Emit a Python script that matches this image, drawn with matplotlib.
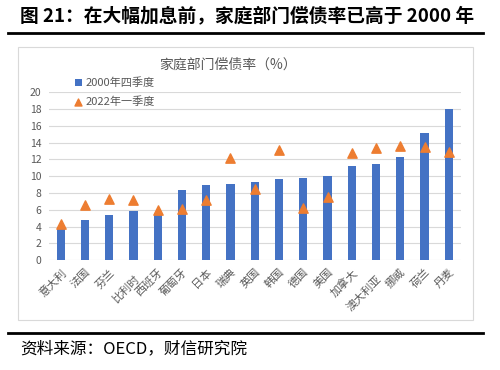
import matplotlib.pyplot as plt
import matplotlib.patches as mpatches
import matplotlib.transforms as mtrans
from matplotlib.lines import Line2D
import numpy as np

plt.rcParams['font.family'] = ['Noto Sans CJK SC', 'DejaVu Sans']

countries = ['意大利', '法国', '芬兰', '比利时', '西班牙', '葡萄牙', '日本', '瑞典', '英国',
             '韩国', '德国', '美国', '加拿大', '澳大利亚', '挪威', '荷兰', '丹麦']
q4_2000 = [3.8, 4.8, 5.4, 5.8, 5.6, 8.4, 8.9, 9.1, 9.3,
           9.6, 9.8, 10.0, 11.2, 11.5, 12.3, 15.1, 18.0]
q1_2022 = [4.3, 6.6, 7.3, 7.2, 6.0, 6.1, 7.2, 12.2, 8.5,
           13.1, 6.2, 7.5, 12.7, 13.4, 13.6, 13.5, 12.9]
yticks = list(range(0, 21, 2))

blue = '#4472C4'
orange = '#ED7D31'
grey = '#595959'

fig = plt.figure(figsize=(5, 3.7), dpi=100)

# outer report frame
fig.text(0.04, 0.957, '图 21：在大幅加息前，家庭部门偿债率已高于 2000 年',
         fontsize=13.5, fontweight='bold', va='center', ha='left', color='black')
fig.add_artist(Line2D([0.016, 0.966], [0.911, 0.911], color='black', lw=2))
fig.add_artist(Line2D([0.016, 0.966], [0.100, 0.100], color='black', lw=2))
fig.text(0.04, 0.056, '资料来源：OECD，财信研究院', fontsize=12, va='center', color='black')

# chart box, kept under the axes
box = mpatches.Rectangle((0.036, 0.135), 0.910, 0.738, transform=fig.transFigure,
                         facecolor='white', edgecolor='#D9D9D9', lw=0.8, zorder=-1)
fig.patches.append(box)

ax = fig.add_axes([0.097, 0.297, 0.825, 0.454])
ax.patch.set_alpha(0)
x = np.arange(len(countries))
bars = ax.bar(x, q4_2000, width=0.34, color=blue, zorder=2, label='2000年四季度')
tri = ax.scatter(x, q1_2022, marker='^', s=45, color=orange, zorder=3, label='2022年一季度')

ax.set_xlim(-0.5, len(countries) - 0.5)
ax.set_ylim(0, 20)
ax.set_yticks(yticks)
ax.yaxis.grid(True, color='#D9D9D9', lw=0.8, zorder=0)
ax.set_axisbelow(True)
for s in ax.spines.values():
    s.set_visible(False)
ax.tick_params(axis='y', length=0, labelsize=7.5, colors=grey, pad=5)
ax.tick_params(axis='x', length=0, labelsize=8, colors=grey, pad=5)
ax.set_xticks(x)
ax.set_xticklabels(countries, rotation=45, ha='right', va='top', rotation_mode='anchor')
# excel staggers a couple of the longer labels
shift = mtrans.ScaledTranslation(0, -0.07, fig.dpi_scale_trans)
for lbl in ax.get_xticklabels():
    if lbl.get_text() in ('比利时', '澳大利亚'):
        lbl.set_transform(lbl.get_transform() + shift)

fig.text(0.456, 0.825, '家庭部门偿债率（%）', fontsize=10, color=grey, ha='center', va='center')
ax.legend([bars, tri], ['2000年四季度', '2022年一季度'], loc='upper left',
          bbox_to_anchor=(0.138, 0.805), bbox_transform=fig.transFigure,
          frameon=False, fontsize=8, labelcolor=grey, handlelength=0.7, handletextpad=0.3,
          labelspacing=0.75, borderpad=0, markerscale=0.75)

fig.savefig('out.png', dpi=100)
